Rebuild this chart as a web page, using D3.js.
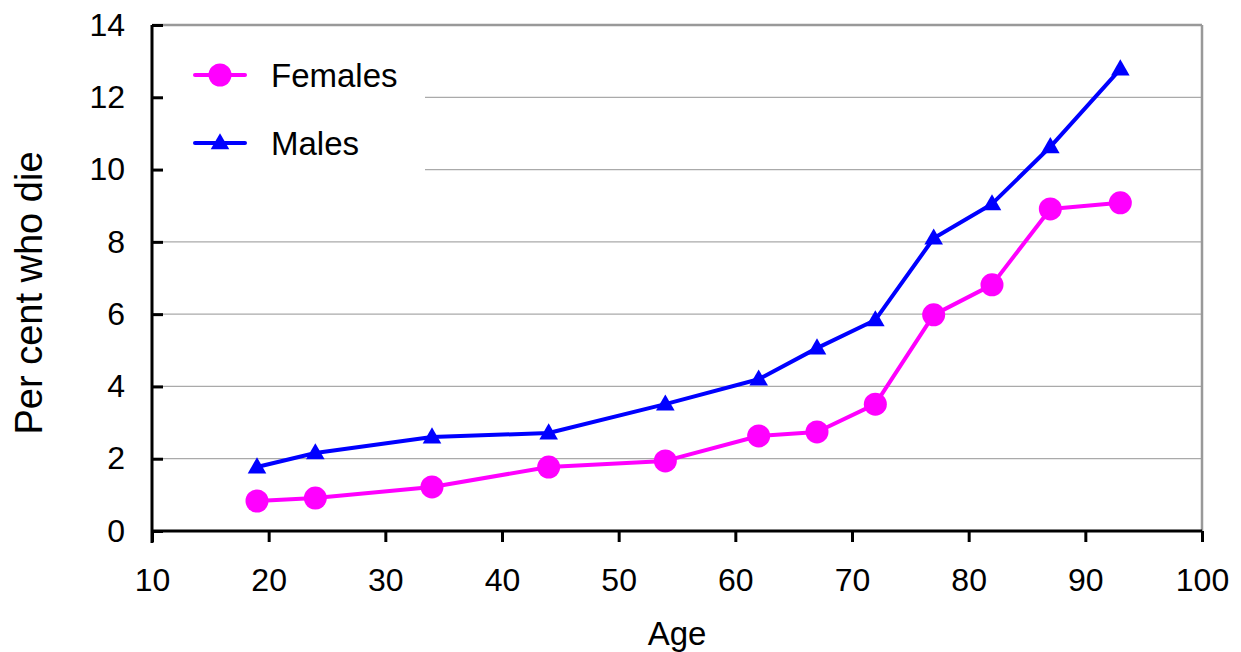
<!DOCTYPE html>
<html><head><meta charset="utf-8">
<script src="https://cdn.jsdelivr.net/npm/d3@7"></script>
<style>body{margin:0;background:#fff}svg{display:block}text{font-family:"Liberation Sans",Arial,sans-serif;fill:#000}</style>
</head><body><svg id="c" width="1241" height="652"></svg>
<script>
const ages = [19, 24, 34, 44, 54, 62, 67, 72, 77, 82, 87, 93];
const females = [0.83, 0.91, 1.22, 1.77, 1.94, 2.63, 2.74, 3.51, 5.98, 6.81, 8.91, 9.08];
const males = [1.77, 2.16, 2.60, 2.71, 3.51, 4.20, 5.06, 5.84, 8.10, 9.05, 10.63, 12.78];
const xTicks = [10, 20, 30, 40, 50, 60, 70, 80, 90, 100];
const yTicks = [0, 2, 4, 6, 8, 10, 12, 14];
const seriesNames = ["Females", "Males"];
const seriesColors = ["#FF00FF", "#0000FF"];

const svg = d3.select("#c");
const L = 152, R = 1202, T = 25, B = 531;
const x = d3.scaleLinear().domain([10, 100]).range([L, R]);
const y = d3.scaleLinear().domain([0, 14]).range([B, T]);

// gridlines
svg.append("g").selectAll("line").data(yTicks.filter(d => d > 0)).join("line")
  .attr("x1", L).attr("x2", R).attr("y1", d => y(d)).attr("y2", d => y(d))
  .attr("stroke", d => d === 14 ? "#999" : "#aaa").attr("stroke-width", d => d === 14 ? 2.5 : 1.2);
// right border
svg.append("line").attr("x1", R).attr("x2", R).attr("y1", T).attr("y2", B)
  .attr("stroke", "#999").attr("stroke-width", 2.5);

// legend background
svg.append("rect").attr("x", L + 3).attr("y", T + 5).attr("width", 425 - L - 3).attr("height", 160).attr("fill", "#fff");

// axes
const xAxis = d3.axisBottom(x).tickValues(xTicks).tickSize(11).tickPadding(25).tickFormat(d3.format("d"));
const gx = svg.append("g").attr("transform", `translate(0,${B})`).call(xAxis);
gx.select(".domain").attr("stroke", "#000").attr("stroke-width", 3).attr("d", `M${L},0H${R}`);
gx.selectAll(".tick line").attr("stroke", "#000").attr("stroke-width", 3);
gx.selectAll(".tick text").attr("font-size", 32).attr("dy", "0.74em").attr("font-family", "Liberation Sans, Arial, sans-serif").attr("fill", "#000");

const yAxis = d3.axisLeft(y).tickValues(yTicks).tickSize(-11).tickPadding(27).tickFormat(d3.format("d"));
const gy = svg.append("g").attr("transform", `translate(${L},0)`).call(yAxis);
gy.select(".domain").attr("stroke", "#000").attr("stroke-width", 3).attr("d", `M0,${T}V${B + 12}`);
gy.selectAll(".tick line").attr("stroke", "#000").attr("stroke-width", 3);
gy.selectAll(".tick text").attr("font-size", 32).attr("font-family", "Liberation Sans, Arial, sans-serif").attr("fill", "#000");

// axis titles
svg.append("text").attr("x", 677).attr("y", 645).attr("text-anchor", "middle").attr("font-size", 33).text("Age");
svg.append("text").attr("transform", "translate(42,293) rotate(-90)").attr("text-anchor", "middle").attr("font-size", 38).text("Per cent who die");

const line = d3.line().x(d => x(d[0])).y(d => y(d[1]));
const tri = d3.symbol().type(d3.symbolTriangle).size(150);

const fData = ages.map((a, i) => [a, females[i]]);
const mData = ages.map((a, i) => [a, males[i]]);

svg.append("path").datum(fData).attr("d", line).attr("fill", "none").attr("stroke", seriesColors[0]).attr("stroke-width", 4).attr("stroke-linejoin", "round");
svg.append("path").datum(mData).attr("d", line).attr("fill", "none").attr("stroke", seriesColors[1]).attr("stroke-width", 4).attr("stroke-linejoin", "round");

svg.append("g").selectAll("circle").data(fData).join("circle")
  .attr("cx", d => x(d[0])).attr("cy", d => y(d[1])).attr("r", 11.5).attr("fill", seriesColors[0]);
svg.append("g").selectAll("path").data(mData).join("path")
  .attr("d", tri).attr("transform", d => `translate(${x(d[0])},${y(d[1]) + 1})`).attr("fill", seriesColors[1]);

// legend
const lg = svg.append("g");
const legY = [75, 143];
seriesNames.forEach((n, i) => {
  lg.append("line").attr("x1", 195).attr("x2", 245).attr("y1", legY[i]).attr("y2", legY[i])
    .attr("stroke", seriesColors[i]).attr("stroke-width", 4).attr("stroke-linecap", "round");
  if (i === 0) lg.append("circle").attr("cx", 220).attr("cy", legY[i]).attr("r", 11.5).attr("fill", seriesColors[i]);
  else lg.append("path").attr("d", tri).attr("transform", `translate(220,${legY[i] + 1})`).attr("fill", seriesColors[i]);
  lg.append("text").attr("x", 271).attr("y", legY[i] + 12).attr("font-size", 33).text(n);
});
</script></body></html>
